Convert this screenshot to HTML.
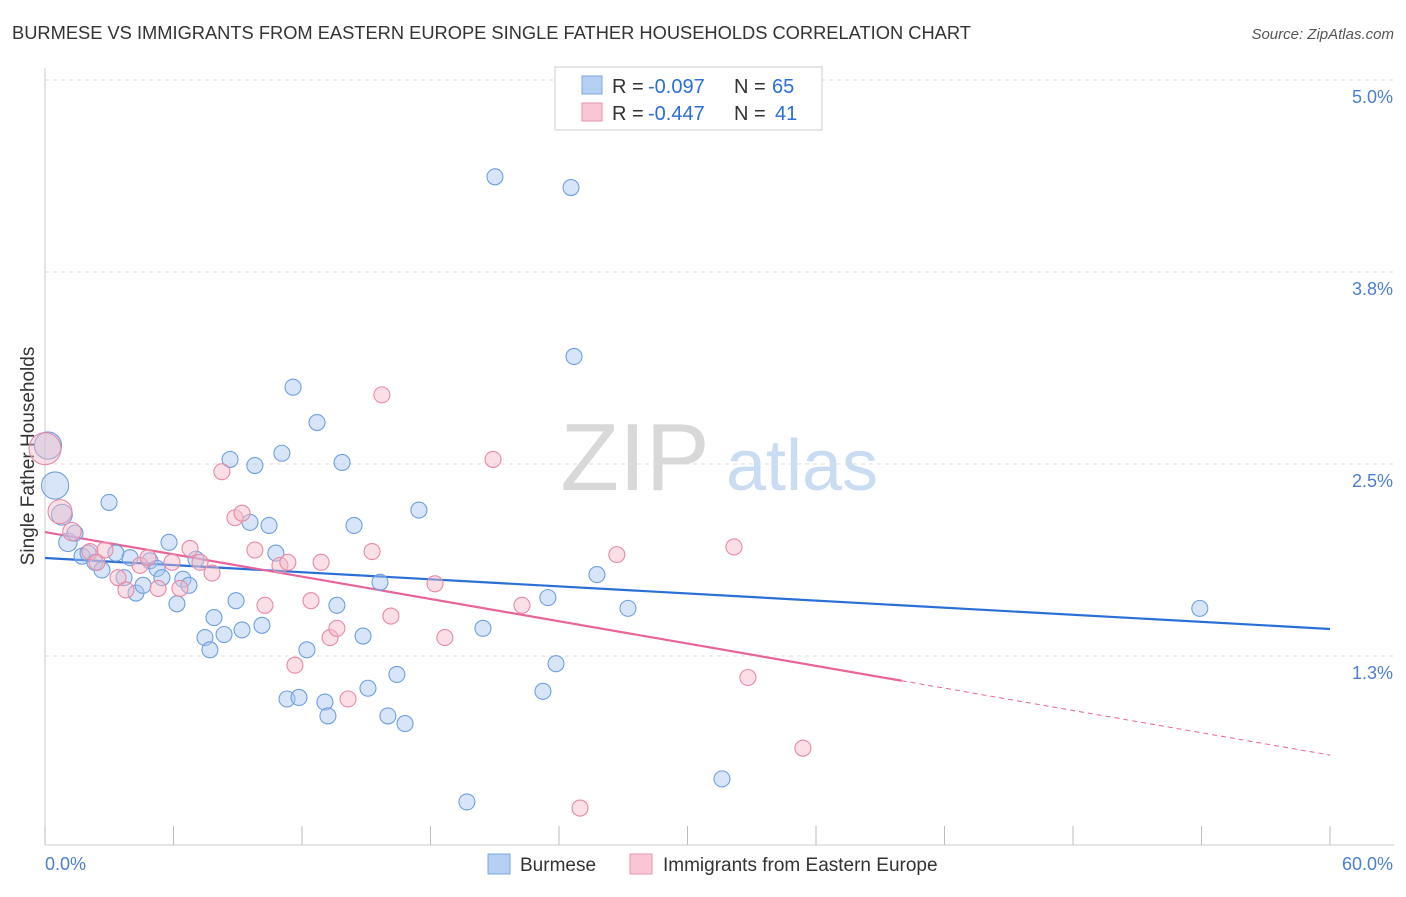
<!DOCTYPE html>
<html><head><meta charset="utf-8"><style>
body{margin:0;background:#fff;font-family:"Liberation Sans",sans-serif;}
svg text{font-family:"Liberation Sans",sans-serif;}
</style></head><body>
<svg id="chart" width="1406" height="892" xmlns="http://www.w3.org/2000/svg">
<text x="12" y="39" font-size="18.3" fill="#333">BURMESE VS IMMIGRANTS FROM EASTERN EUROPE SINGLE FATHER HOUSEHOLDS CORRELATION CHART</text>
<text x="1394" y="39" font-size="15" fill="#555" text-anchor="end" font-style="italic">Source: ZipAtlas.com</text>
<text transform="translate(34,456) rotate(-90)" font-size="19" fill="#333" text-anchor="middle">Single Father Households</text>
<g>
<text x="635" y="490" font-size="96" fill="#d8d8d8" font-family="Liberation Serif" text-anchor="middle">ZIP</text>
<text x="802" y="490" font-size="72" fill="#c9dcf2" text-anchor="middle">atlas</text>
</g>
<g id="grid"></g><g id="axes"></g><g id="lines"></g><g id="points"></g>
<g>
<rect x="555" y="67" width="267" height="63" fill="#fff" stroke="#ccc"/>
<rect x="582" y="76" width="20" height="18" fill="#b6d0f4" stroke="#7aa6e3"/>
<text x="612" y="93" font-size="20" fill="#333">R =</text>
<text x="648" y="93" font-size="20" fill="#2a6fd6">-0.097</text>
<text x="734" y="93" font-size="20" fill="#333">N =</text>
<text x="772" y="93" font-size="20" fill="#2a6fd6">65</text>
<rect x="582" y="103" width="20" height="18" fill="#f8c6d4" stroke="#e891ad"/>
<text x="612" y="120" font-size="20" fill="#333">R =</text>
<text x="648" y="120" font-size="20" fill="#2a6fd6">-0.447</text>
<text x="734" y="120" font-size="20" fill="#333">N =</text>
<text x="775" y="120" font-size="20" fill="#2a6fd6">41</text>
</g>
<g>
<rect x="488" y="854" width="22" height="20" fill="#b6d0f4" stroke="#7aa6e3"/>
<text x="520" y="871" font-size="19" fill="#333">Burmese</text>
<rect x="630" y="854" width="22" height="20" fill="#f8c6d4" stroke="#e891ad"/>
<text x="663" y="871" font-size="19" fill="#333">Immigrants from Eastern Europe</text>
</g>
</svg>
<script>
const blueX=[0.47,0.14,0.79,1.07,1.40,1.73,2.01,2.33,2.66,2.99,3.31,3.69,3.97,4.25,4.58,4.90,5.23,5.46,5.79,6.16,6.44,6.72,7.05,7.47,7.70,7.89,8.36,8.64,8.92,9.20,9.57,9.80,10.13,10.46,10.78,11.06,11.30,11.58,11.86,12.23,12.70,13.07,13.21,13.63,13.87,14.43,14.85,15.08,15.64,16.01,16.43,16.81,17.46,19.70,20.45,21.01,23.25,23.48,23.86,24.56,24.70,25.77,27.22,31.61,53.92];
const blueY=[2.36,2.62,2.17,1.99,2.05,1.90,1.92,1.86,1.81,2.25,1.92,1.76,1.89,1.66,1.71,1.87,1.82,1.76,1.99,1.59,1.75,1.71,1.88,1.37,1.29,1.50,1.39,2.53,1.61,1.42,2.12,2.49,1.45,2.10,1.92,2.57,0.97,3.00,0.98,1.29,2.77,0.95,0.86,1.58,2.51,2.10,1.38,1.04,1.73,0.86,1.13,0.81,2.20,0.30,1.43,4.37,1.02,1.63,1.20,4.30,3.20,1.78,1.56,0.45,1.56];
const blueSize=[1.7,1.7,1.3,1.15];
const pinkX=[0.00,0.70,1.26,2.10,2.43,2.80,3.41,3.78,4.44,4.81,5.28,5.93,6.30,6.77,7.24,7.80,8.26,8.87,9.20,9.80,10.27,10.97,11.34,11.67,12.42,12.89,13.31,13.63,14.15,15.27,15.73,16.15,18.21,18.67,20.92,22.27,24.98,26.70,32.17,32.82,35.39];
const pinkY=[2.60,2.19,2.06,1.93,1.86,1.94,1.76,1.68,1.84,1.89,1.69,1.86,1.69,1.95,1.86,1.79,2.45,2.15,2.18,1.94,1.58,1.84,1.86,1.19,1.61,1.86,1.37,1.43,0.97,1.93,2.95,1.51,1.72,1.37,2.53,1.58,0.26,1.91,1.96,1.11,0.65];
const pinkSize=[2.0,1.5,1.15];
const blueTrend=[1.888,1.426];
const pinkTrend=[2.057,0.605];
const pinkSolidEnd=40;
const yTicks=[5.0,3.75,2.5,1.25];
const yTickLabels=["5.0%","3.8%","2.5%","1.3%"];
const xTickVals=[0,6,12,18,24,30,36,42,48,54,60];
const NS="http://www.w3.org/2000/svg";
function X(v){return 45+v*21.417;}
function Y(v){return 848-v*153.6;}
function mk(t,a,p){const e=document.createElementNS(NS,t);for(const k in a)e.setAttribute(k,a[k]);p.appendChild(e);return e;}
const grid=document.getElementById('grid'),axes=document.getElementById('axes'),lines=document.getElementById('lines'),pts=document.getElementById('points');
yTicks.forEach((v,i)=>{
 const l=mk('line',{x1:45,x2:1394,y1:Y(v),y2:Y(v),stroke:'#ddd','stroke-dasharray':'4,4'},grid);
 
 
 const t=mk('text',{x:1393,y:Y(v)+23,'font-size':18,fill:'#4a7fd0','text-anchor':'end'},axes);
 t.textContent=yTickLabels[i];
 
 
});
const ax=mk('line',{x1:45,x2:45,y1:68,y2:845,stroke:'#ccc'},axes);


const bx=mk('line',{x1:45,x2:1394,y1:845,y2:845,stroke:'#ccc'},axes);


xTickVals.forEach(v=>{
 const t=mk('line',{x1:X(v),x2:X(v),y1:826,y2:845,stroke:'#bbb'},axes);
 
 
});
const xl0=mk('text',{x:45,y:870,'font-size':18,fill:'#4a7fd0'},axes);xl0.textContent='0.0%';


const xl1=mk('text',{x:1393,y:870,'font-size':18,fill:'#4a7fd0','text-anchor':'end'},axes);xl1.textContent='60.0%';


function dot(x,y,r,fill,stroke,name){
 const c=mk('circle',{cx:X(x),cy:Y(y),r:r,fill:fill,'fill-opacity':0.45,stroke:stroke,'stroke-width':1.1},pts);
 
 
}
blueX.forEach((x,i)=>dot(x,blueY[i],8*(blueSize[i]||1),'#a8c6f0','#6f9fe0','burmese-point'));
pinkX.forEach((x,i)=>dot(x,pinkY[i],8*(pinkSize[i]||1),'#f5b8c8','#e68aa6','eastern-europe-point'));
const bl=mk('line',{x1:X(0),y1:Y(blueTrend[0]),x2:X(60),y2:Y(blueTrend[1]),stroke:'#2a6fd6','stroke-width':2.2},lines);


const pm=pinkTrend[0]+(pinkTrend[1]-pinkTrend[0])*pinkSolidEnd/60;
const pl=mk('line',{x1:X(0),y1:Y(pinkTrend[0]),x2:X(pinkSolidEnd),y2:Y(pm),stroke:'#e8649a','stroke-width':2.2},lines);


const pd=mk('line',{x1:X(pinkSolidEnd),y1:Y(pm),x2:X(60),y2:Y(pinkTrend[1]),stroke:'#e8649a','stroke-width':1,'stroke-dasharray':'5,4'},lines);


</script>
</body></html>
